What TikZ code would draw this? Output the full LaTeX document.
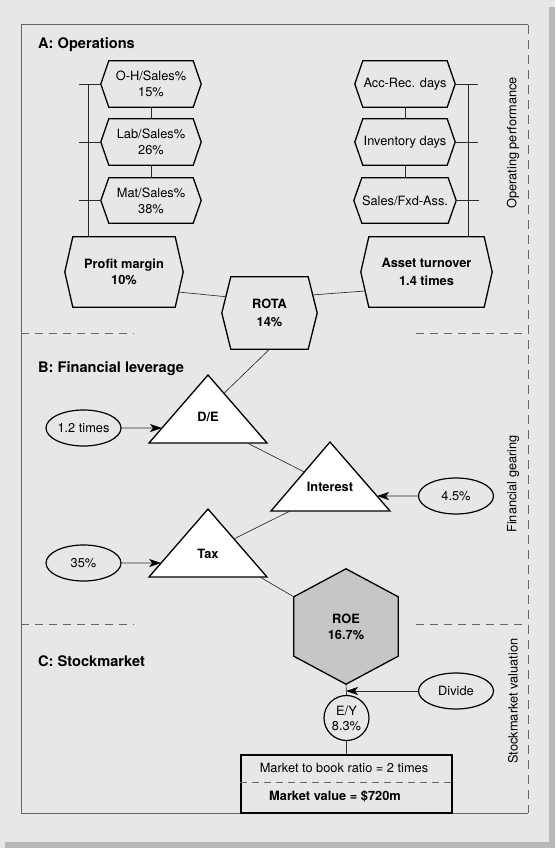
\documentclass[tikz,border=0pt]{standalone}
\usepackage{fontspec}
\setmainfont{TeX Gyre Heros}
\usetikzlibrary{calc,arrows.meta,shapes.geometric,backgrounds}
\definecolor{bg}{HTML}{E7E7E7}
\definecolor{shadowc}{HTML}{B9B9B9}
\definecolor{roefill}{HTML}{C6C6C6}
\definecolor{framec}{HTML}{666666}
\definecolor{connc}{HTML}{2A2A2A}
\tikzset{
  txt/.style={inner sep=0pt, align=center, font=\fontsize{12.8}{16}\selectfont},
  boldtxt/.style={txt, font=\fontsize{12.8}{16}\selectfont\bfseries},
  titletxt/.style={inner sep=0pt, anchor=west, font=\fontsize{14.6}{17}\selectfont\bfseries},
  hexnode/.style={txt, rectangle},
  shapeline/.style={draw=black, line width=1.3pt, line join=miter},
  triline/.style={draw=black, fill=white, line width=1.3pt, line join=miter},
  ell/.style={txt, ellipse, draw=black, line width=1.2pt, minimum width=75pt, minimum height=36pt},
  conn/.style={draw=connc, line width=0.65pt},
  arr/.style={conn, -{Stealth[length=12pt,width=8pt,inset=3pt,black]}},
  framel/.style={draw=framec, line width=1pt},
  sep/.style={draw=framec, line width=0.9pt, dash pattern=on 8pt off 6pt},
  sidetxt/.style={txt, rotate=90}
}
% name, cx, cy, width, height, depth, style, text
\newcommand\hexH[8]{%
  \node[hexnode, minimum width=#4pt, minimum height=#5pt, #7] (#1) at (#2,#3) {#8};
  \coordinate (#1-l) at ($(#1.west)+(-#6,0)$);
  \coordinate (#1-r) at ($(#1.east)+(#6,0)$);
  \draw[shapeline] (#1.north west) -- (#1.north east) -- (#1-r) -- (#1.south east)
    -- (#1.south west) -- (#1-l) -- cycle;
}
\begin{document}
\begin{tikzpicture}[x=1pt,y=-1pt]
\useasboundingbox (0,0) rectangle (555,848);
\begin{scope}[on background layer]
\fill[bg] (0,0) rectangle (555,848);
\fill[shadowc] (549,7) rectangle (555,848);
\fill[shadowc] (5,842) rectangle (555,848);
\end{scope}

% frame
\draw[framel] (528,25) -- (21,25) -- (21,813) -- (528,813);
\draw[framel, dash pattern=on 9pt off 6pt] (528,25) -- (528,813);
\draw[sep] (21,333) -- (134,333);
\draw[sep] (416,333) -- (528,333);
\draw[sep] (21,624) -- (134,624);
\draw[sep] (416,624) -- (528,624);

% titles
\node[titletxt] (ta) at (38,45) {A: Operations};
\node[titletxt] (tb) at (38,369) {B: Financial leverage};
\node[titletxt] (tc) at (38,661) {C: Stockmarket};

% side labels
\node[sidetxt] (s1) at (513,143) {Operating performance};
\node[sidetxt] (s2) at (513,484) {Financial gearing};
\node[sidetxt] (s3) at (513,701) {Stockmarket valuation};

% operations hexagons
\hexH{oh}{151}{84}{84}{46}{8}{}{O-H/Sales\%\\15\%}
\hexH{lab}{151}{142}{84}{46}{8}{}{Lab/Sales\%\\26\%}
\hexH{mat}{151}{200.5}{84}{45}{8}{}{Mat/Sales\%\\38\%}
\hexH{acc}{405}{84}{84}{46}{8}{}{Acc-Rec. days}
\hexH{inv}{405}{142}{84}{46}{8}{}{Inventory days}
\hexH{sfa}{405}{200.5}{84}{45}{8}{}{Sales/Fxd-Ass.}
\hexH{pm}{124}{272}{102}{70}{8}{boldtxt}{Profit margin\\10\%}
\hexH{at}{426.5}{272}{115}{70}{8}{boldtxt, font=\fontsize{12.8}{18}\selectfont\bfseries}{Asset turnover\\1.4 times}
\hexH{rota}{269.5}{313}{77}{72}{9}{boldtxt, font=\fontsize{12.8}{18}\selectfont\bfseries}{ROTA\\14\%}

\draw[conn] (oh.south) -- (lab.north);
\draw[conn] (lab.south) -- (mat.north);
\draw[conn] (acc.south) -- (inv.north);
\draw[conn] (inv.south) -- (sfa.north);

% brackets
\coordinate (lb) at (88,84);
\draw[conn] (lb) -- (lb |- pm.north);
\draw[conn] ($(oh-l)+(-22,0)$) -- (oh-l);
\draw[conn] ($(lab-l)+(-22,0)$) -- (lab-l);
\draw[conn] ($(mat-l)+(-22,0)$) -- (mat-l);
\coordinate (rb) at (468,84);
\draw[conn] (rb) -- (rb |- at.north);
\draw[conn] (acc-r) -- ($(acc-r)+(23,0)$);
\draw[conn] (inv-r) -- ($(inv-r)+(23,0)$);
\draw[conn] (sfa-r) -- ($(sfa-r)+(23,0)$);

\draw[conn] ($(pm-r)!0.57!(pm.south east)$) -- ($(rota.north west)!0.55!(rota-l)$);
\draw[conn] ($(at-l)!0.54!(at.south west)$) -- ($(rota.north east)!0.5!(rota-r)$);

% triangles
\coordinate (de-a) at (208,375); \coordinate (de-bl) at (149,443); \coordinate (de-br) at (267,443);
\draw[triline] (de-a) -- (de-br) -- (de-bl) -- cycle;
\node[boldtxt] (de) at (208,417) {D/E};
\coordinate (in-a) at (330,442); \coordinate (in-bl) at (271,511); \coordinate (in-br) at (390,511);
\draw[triline] (in-a) -- (in-br) -- (in-bl) -- cycle;
\node[boldtxt] (int) at (330,487) {Interest};
\coordinate (tx-a) at (208,509); \coordinate (tx-bl) at (149,577); \coordinate (tx-br) at (267,577);
\draw[triline] (tx-a) -- (tx-br) -- (tx-bl) -- cycle;
\node[boldtxt] (tax) at (208,554) {Tax};

% ROE vertical hexagon
\node[hexnode, minimum width=104pt, minimum height=59pt, boldtxt] (roe) at (346,626.5) {ROE\\16.7\%};
\coordinate (roe-t) at ($(roe.north)+(0,-28)$);
\coordinate (roe-b) at ($(roe.south)+(0,28)$);
\begin{scope}[on background layer]
\filldraw[shapeline, fill=roefill] (roe-t) -- (roe.north east) -- (roe.south east) -- (roe-b)
  -- (roe.south west) -- (roe.north west) -- cycle;
\end{scope}

% connectors B
\draw[conn] (rota.south) -- ($(de-a)!0.27!(de-br)$);
\draw[conn] ($(de-bl)!0.833!(de-br)$) -- ($(in-a)!0.435!(in-bl)$);
\draw[conn] ($(in-bl)!0.16!(in-br)$) -- ($(tx-a)!0.44!(tx-br)$);
\draw[conn] ($(tx-bl)!0.94!(tx-br)$) -- (roe.north west);

% ellipses and arrows
\node[ell] (e1) at (83.5,428) {1.2 times};
\node[ell] (e2) at (456,496) {4.5\%};
\node[ell] (e3) at (83.5,563) {35\%};
\node[ell] (dv) at (456,691) {Divide};
\coordinate (de-in) at ($(de-a)!0.78!(de-bl)$);
\coordinate (in-in) at ($(in-a)!0.783!(in-br)$);
\coordinate (tx-in) at ($(tx-a)!0.794!(tx-bl)$);
\draw[arr] (e1.east) -- (de-in);
\draw[arr] (e2.west) -- (in-in);
\draw[arr] (e3.east) -- (tx-in);

% C section
\node[txt, circle, draw=black, line width=1.2pt, minimum size=45pt, font=\fontsize{12.8}{15}\selectfont] (ey) at (346.5,718) {E/Y\\8.3\%};
\node[draw=black, line width=1.5pt, minimum width=211pt, minimum height=58pt, inner sep=0pt] (mb) at (346.5,784) {};
\draw[conn] (roe-b) -- (ey.north);
\draw[conn] (ey.south) -- (mb.north);
\draw[arr] (dv.west) -- (dv.west -| roe-b);
\draw[draw=framec, line width=0.9pt, dash pattern=on 7pt off 5pt] ($(mb.west)+(0,-2)$) -- ($(mb.east)+(0,-2)$);
\node[txt] (mbr) at (344,768) {Market to book ratio = 2 times};
\node[boldtxt] (mv) at (335,796) {Market value = \$720m};
\end{tikzpicture}
\end{document}
